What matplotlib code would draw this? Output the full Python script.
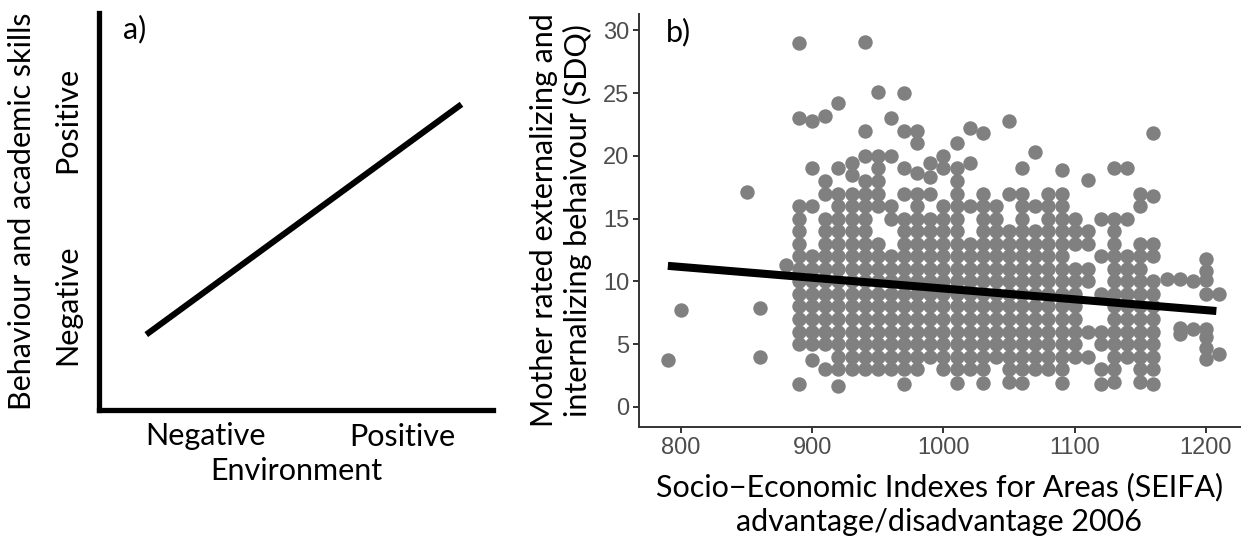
import matplotlib
matplotlib.use("Agg")
import matplotlib.pyplot as plt
import numpy as np

# panel a: conceptual line, environment vs outcome (axis fractions)
env_levels = [0.12, 0.92]
outcome_levels = [0.19, 0.77]
env_tick_pos = [0.27, 0.77]
env_tick_labels = ["Negative", "Positive"]
outcome_tick_pos = [0.265, 0.73]
outcome_tick_labels = ["Negative", "Positive"]

# panel b: SEIFA score (binned to 10) and mother-rated SDQ scores in each bin
seifa_outliers = [790, 800, 850, 860, 860, 880]
sdq_outliers = [3.7, 7.7, 17.1, 7.9, 4.0, 11.3]

seifa_cols = [890, 900, 910, 920, 930, 940, 950, 960, 970, 980, 990, 1000,
              1010, 1020, 1030, 1040, 1050, 1060, 1070, 1080, 1090, 1100,
              1110, 1120, 1130, 1140, 1150, 1160, 1170, 1180, 1190, 1200, 1210]
sdq_890 = [29, 23, 16, 15, 14, 13, 12, 11, 10, 9, 8, 7, 6, 5, 1.8]
sdq_900 = [22.8, 19, 16, 12, 11, 10, 9, 8, 7, 6, 5, 3.7]
sdq_910 = [23.2, 18, 17, 15, 14, 13, 12, 11, 10, 9, 8, 7, 6, 5, 3]
sdq_920 = [24.2, 19, 17, 16, 15, 14, 13, 12, 11, 10, 9, 8, 7, 6, 5, 4, 3, 1.7]
sdq_930 = [19.4, 18.5, 17, 16, 15, 14, 13, 12, 11, 10, 9, 8, 7, 6, 5, 4, 3]
sdq_940 = [29.1, 22, 20, 18, 17, 16, 15, 14, 13, 12, 11, 10, 9, 8, 7, 6, 5, 4, 3]
sdq_950 = [25.1, 20, 19, 18, 17, 16, 13, 12, 11, 10, 9, 8, 7, 6, 5, 4, 3]
sdq_960 = [23, 20, 16, 15, 12, 11, 10, 9, 8, 7, 6, 5, 4, 3]
sdq_970 = [25, 22, 19, 17, 15, 14, 13, 12, 11, 10, 9, 8, 7, 6, 5, 4, 3, 1.8]
sdq_980 = [22, 21, 18.6, 17, 16, 15, 14, 13, 12, 11, 10, 9, 8, 7, 6, 5, 4, 3]
sdq_990 = [19.4, 18.3, 17, 15, 14, 13, 12, 11, 10, 9, 8, 7, 6, 5, 4]
sdq_1000 = [20, 19, 16, 15, 14, 13, 12, 11, 10, 9, 8, 7, 6, 5, 4, 3]
sdq_1010 = [21, 19, 18, 17, 16, 15, 14, 13, 12, 11, 10, 9, 8, 7, 6, 5, 4, 3, 1.9]
sdq_1020 = [22.2, 19.4, 16, 13, 12, 11, 10, 9, 8, 7, 6, 5, 4, 3]
sdq_1030 = [21.8, 17, 16, 15, 14, 13, 12, 11, 10, 9, 8, 7, 6, 5, 4, 3, 1.9]
sdq_1040 = [16, 15, 14, 13, 12, 11, 10, 9, 8, 7, 6, 5, 4]
sdq_1050 = [22.8, 17, 14, 13, 12, 11, 10, 9, 8, 7, 6, 5, 4, 3, 2]
sdq_1060 = [19, 17, 16, 15, 14, 13, 12, 11, 10, 9, 8, 7, 6, 5, 4, 3, 1.9]
sdq_1070 = [20.3, 16, 14, 13, 12, 11, 10, 9, 8, 7, 6, 5, 4, 3]
sdq_1080 = [17, 16, 15, 14, 13, 12, 11, 10, 9, 8, 7, 6, 5, 4, 3]
sdq_1090 = [18.9, 17, 16, 15, 14, 13, 12, 11, 10, 9, 8, 7, 6, 5, 4, 3, 1.9]
sdq_1100 = [15, 14, 13, 11, 10, 9, 8, 7, 6, 5, 4]
sdq_1110 = [18.1, 14, 13, 11, 10, 6, 4]
sdq_1120 = [15, 12, 9, 6, 5, 3, 1.8]
sdq_1130 = [19, 15, 14, 13, 12, 11, 10, 9, 8, 7, 6, 5, 4, 3, 2]
sdq_1140 = [19, 15, 12, 11, 10, 9, 8, 7, 6, 5, 4]
sdq_1150 = [17, 16, 13, 12, 11, 10, 9, 8, 7, 6, 5, 4, 3, 2]
sdq_1160 = [21.8, 16.8, 13, 12, 10, 9, 8, 7, 6, 5, 4, 3, 1.8]
sdq_1170 = [10.2]
sdq_1180 = [10.2, 6.3, 5.8]
sdq_1190 = [10, 6.2]
sdq_1200 = [11.8, 10.8, 10.1, 9, 6.2, 5.6, 4.7, 3.8]
sdq_1210 = [9, 4.2]

sdq_cols = [sdq_890, sdq_900, sdq_910, sdq_920, sdq_930, sdq_940, sdq_950,
            sdq_960, sdq_970, sdq_980, sdq_990, sdq_1000, sdq_1010, sdq_1020,
            sdq_1030, sdq_1040, sdq_1050, sdq_1060, sdq_1070, sdq_1080,
            sdq_1090, sdq_1100, sdq_1110, sdq_1120, sdq_1130, sdq_1140,
            sdq_1150, sdq_1160, sdq_1170, sdq_1180, sdq_1190, sdq_1200, sdq_1210]

# linear fit drawn over the panel
fit_intercept_at_1000 = 9.43
fit_slope = -0.0086
fit_range = [790, 1208]

label_font = "Lato"
tick_font = "Liberation Sans"
label_size = 22

W, H = 1244, 542
fig = plt.figure(figsize=(W / 100, H / 100), dpi=100)


def px_axes(left, top, right, bottom):
    return fig.add_axes([left / W, 1 - bottom / H, (right - left) / W, (bottom - top) / H])


# ---- panel a ----
ax1 = px_axes(99, 13, 493, 410)
ax1.plot(env_levels, outcome_levels, color="black", lw=4.4, solid_capstyle="butt")
ax1.set_xlim(0, 1)
ax1.set_ylim(0, 1)
for side in ["top", "right"]:
    ax1.spines[side].set_visible(False)
for side in ["left", "bottom"]:
    ax1.spines[side].set_linewidth(3.8)
    ax1.spines[side].set_color("black")
ax1.set_xticks(env_tick_pos)
ax1.set_xticklabels(env_tick_labels, fontsize=label_size, family=label_font)
ax1.set_yticks(outcome_tick_pos)
ax1.set_yticklabels(outcome_tick_labels, fontsize=label_size, family=label_font,
                    rotation=90, va="center")
ax1.tick_params(axis="y", length=0, pad=13)
ax1.tick_params(axis="x", length=0, pad=9)
ax1.set_xlabel("Environment", fontsize=label_size, family=label_font, labelpad=5)
ax1.set_ylabel("Behaviour and academic skills", fontsize=label_size,
               family=label_font, labelpad=12)
ax1.text(0.06, 0.96, "a)", transform=ax1.transAxes, fontsize=label_size,
         family=label_font, va="center", ha="left")

# ---- panel b ----
ax2 = px_axes(639, 14, 1240, 427)
xs = list(seifa_outliers)
ys = list(sdq_outliers)
for col, vals in zip(seifa_cols, sdq_cols):
    xs.extend([col] * len(vals))
    ys.extend(vals)
ax2.scatter(xs, ys, s=108, color="#808080", linewidths=0, zorder=2)

fit_x = np.array(fit_range)
fit_y = fit_intercept_at_1000 + fit_slope * (fit_x - 1000)
ax2.plot(fit_x, fit_y, color="black", lw=5.8, solid_capstyle="butt", zorder=3)

ax2.set_xlim(768, 1226)
ax2.set_ylim(-1.6, 31.3)
ax2.set_xticks([800, 900, 1000, 1100, 1200])
ax2.set_yticks([0, 5, 10, 15, 20, 25, 30])
for side in ["top", "right"]:
    ax2.spines[side].set_visible(False)
for side in ["left", "bottom"]:
    ax2.spines[side].set_linewidth(1.4)
    ax2.spines[side].set_color("#333333")
ax2.tick_params(length=4, width=1.4, color="#333333", labelcolor="#4d4d4d",
                labelsize=17, pad=3)
for lab in ax2.get_xticklabels() + ax2.get_yticklabels():
    lab.set_family(tick_font)
ax2.set_xlabel("Socio\u2212Economic Indexes for Areas (SEIFA)\nadvantage/disadvantage 2006",
               fontsize=label_size, family=label_font, linespacing=1.3, labelpad=10)
ax2.set_ylabel("Mother rated externalizing and\ninternalizing behaivour (SDQ)",
               fontsize=label_size, family=label_font, linespacing=1.2, labelpad=8)
ax2.text(0.045, 0.955, "b)", transform=ax2.transAxes, fontsize=label_size,
         family=label_font, va="center", ha="left")

fig.savefig("out.png", dpi=100)
